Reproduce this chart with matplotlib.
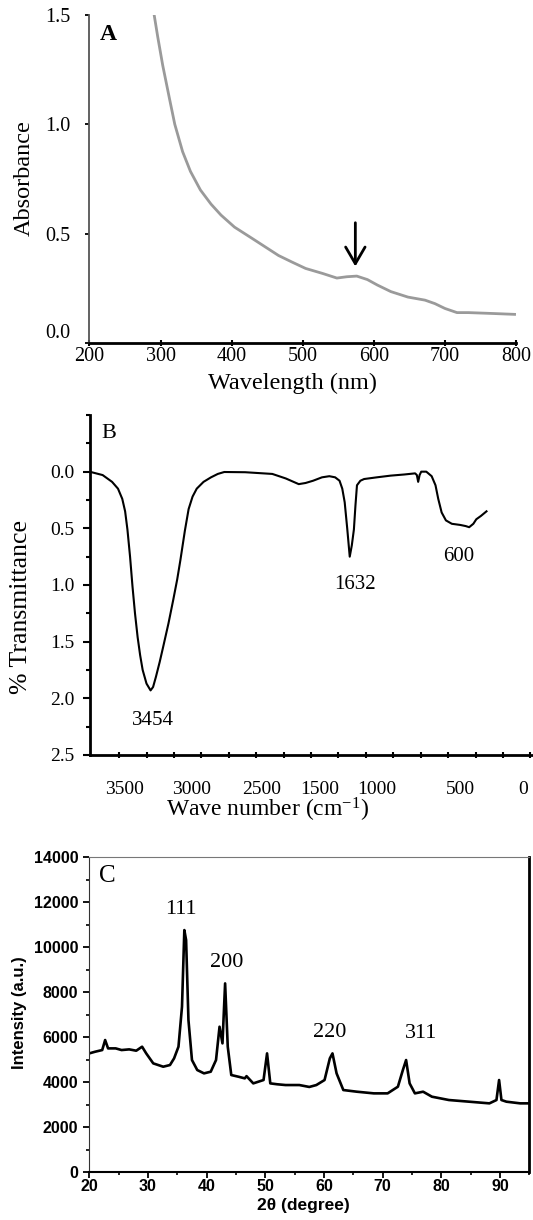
import matplotlib
matplotlib.use('Agg')
import matplotlib.pyplot as plt
from matplotlib.ticker import MultipleLocator, FixedLocator, FormatStrFormatter

plt.rcParams['font.family'] = ['Liberation Serif', 'DejaVu Serif']
plt.rcParams['mathtext.default'] = 'regular'

# ---- panel A: UV-Vis ----
uv_wavelength = [291, 296, 303, 313, 320, 331, 342, 356, 371, 385, 404, 428, 447, 466,
                 485, 504, 528, 548, 562, 576, 591, 605, 624, 648, 672, 686, 700, 717,
                 733, 767, 798]
uv_absorbance = [1.50, 1.40, 1.27, 1.11, 1.00, 0.875, 0.785, 0.70, 0.635, 0.585, 0.53, 0.48,
                 0.44, 0.40, 0.37, 0.341, 0.318, 0.297, 0.303, 0.306, 0.29, 0.265, 0.235,
                 0.21, 0.196, 0.18, 0.158, 0.139, 0.139, 0.135, 0.131]
uv_arrow_x = 574

# ---- panel B: FTIR ----
ir_wavenumber = [4000, 3900, 3814, 3760, 3721, 3695, 3674, 3650, 3628, 3605, 3581, 3558,
                 3535, 3500, 3463, 3440, 3414, 3380, 3349, 3300, 3256, 3220, 3191, 3150,
                 3116, 3080, 3042, 2980, 2912, 2850, 2791, 2600, 2353, 2230, 2112, 2050,
                 1981, 1900, 1833, 1780, 1740, 1715, 1693, 1670, 1647, 1628, 1609, 1595,
                 1581, 1550, 1516, 1400, 1274, 1150, 1051, 1035, 1023, 1010, 995, 949,
                 900, 865, 840, 809, 770, 716, 640, 590, 558, 520, 493, 450, 400]
ir_trans = [0.005, 0.03, 0.09, 0.15, 0.24, 0.35, 0.51, 0.75, 1.01, 1.25, 1.46, 1.62,
            1.75, 1.87, 1.93, 1.90, 1.81, 1.68, 1.55, 1.34, 1.13, 0.95, 0.78, 0.52,
            0.33, 0.22, 0.15, 0.09, 0.05, 0.02, 0.003, 0.005, 0.02, 0.06, 0.11, 0.10,
            0.08, 0.05, 0.04, 0.05, 0.08, 0.15, 0.27, 0.50, 0.75, 0.65, 0.51, 0.30,
            0.12, 0.08, 0.065, 0.05, 0.035, 0.025, 0.015, 0.03, 0.09, 0.03, 0.0, 0.0,
            0.04, 0.12, 0.24, 0.36, 0.43, 0.46, 0.47, 0.48, 0.49, 0.46, 0.42, 0.39, 0.35]
ir_tick_pos = [3705, 3085, 2447, 1918, 1399, 640, 68]
ir_tick_labels = ['3500', '3000', '2500', '1500', '1000', '500', '0']
ir_peaks = [('3454', 3440, 2.2), ('1632', 1596, 1.0), ('600', 651, 0.75)]

# ---- panel C: XRD ----
xrd_2theta = [20.0, 21.0, 22.2, 22.7, 23.2, 24.5, 25.5, 26.8, 28.0, 29.0, 29.7, 30.9, 32.6,
              33.75, 34.45, 35.2, 35.8, 36.2, 36.5, 36.9, 37.5, 38.4, 39.55, 40.7, 41.6,
              42.2, 42.7, 43.15, 43.6, 44.2, 45.5, 46.5, 46.8, 47.95, 49.7, 50.3, 50.85,
              52.0, 53.45, 55.8, 57.5, 58.7, 60.1, 61.0, 61.45, 62.15, 63.3, 65.6, 68.5,
              70.85, 72.6, 73.45, 74.0, 74.6, 75.5, 76.9, 78.4, 81.3, 84.75, 88.2, 89.4,
              89.85, 90.25, 91.1, 93.45, 94.9]
xrd_intensity = [5272, 5346, 5420, 5865, 5494, 5494, 5420, 5450, 5391, 5569, 5272, 4828,
                 4680, 4754, 5050, 5569, 7346, 10752, 10308, 6753, 4976, 4532, 4384, 4458,
                 4976, 6457, 5717, 8382, 5569, 4310, 4230, 4162, 4260, 3939, 4088, 5272,
                 3939, 3900, 3865, 3865, 3780, 3865, 4088, 5050, 5272, 4384, 3643, 3569,
                 3495, 3495, 3791, 4532, 4976, 3939, 3495, 3569, 3347, 3199, 3125, 3051,
                 3199, 4088, 3199, 3125, 3051, 3051]
xrd_peaks = [('111', 35.65, 11660), ('200', 43.5, 9330), ('220', 61.0, 6190), ('311', 76.5, 6140)]

SANS = ['Liberation Sans', 'DejaVu Sans']

fig = plt.figure(figsize=(5.33, 12.2), dpi=100)

# A
ax1 = fig.add_axes([0.1679, 0.71885, 0.8002, 0.26885])
ax1.plot(uv_wavelength, uv_absorbance, color='#9a9a9a', lw=2)
ax1.set_xlim(200, 800)
ax1.set_ylim(0, 1.5)
ax1.set_xticks([200, 300, 400, 500, 600, 700, 800])
ax1.set_yticks([0.0, 0.5, 1.0, 1.5])
ax1.yaxis.set_major_formatter(FormatStrFormatter('%.1f'))
ax1.spines['top'].set_visible(False)
ax1.spines['right'].set_visible(False)
ax1.spines['left'].set_color('#555555')
ax1.spines['left'].set_linewidth(1.3)
ax1.spines['bottom'].set_linewidth(2)
ax1.tick_params(axis='x', direction='inout', length=4, width=1.5, pad=1, labelsize=14.5)
ax1.tick_params(axis='y', direction='out', length=3, width=1.3, pad=11, labelsize=14.5)
ax1.yaxis.get_major_ticks()[0].label1.set_va('bottom')
ax1.set_xlabel('Wavelength (nm)', fontsize=17.5, va='center')
ax1.xaxis.set_label_coords(0.476, -0.122)
ax1.set_ylabel('Absorbance', fontsize=17.5, va='center')
ax1.yaxis.set_label_coords(-0.154, 0.504)
ax1.text(227, 1.41, 'A', fontsize=17, fontweight='bold', ha='center', va='center')
ax1.annotate('', xy=(uv_arrow_x, 0.35), xytext=(uv_arrow_x, 0.55),
             arrowprops=dict(arrowstyle='->,head_length=0.6,head_width=0.35', lw=2,
                             color='black', mutation_scale=20, shrinkA=0, shrinkB=0))

# B
ax2 = fig.add_axes([0.1689, 0.38115, 0.8311, 0.27869])
ax2.plot(ir_wavenumber, ir_trans, color='black', lw=1.5)
ax2.set_xlim(4015, -24)
ax2.set_ylim(2.5, -0.5)
ax2.xaxis.set_major_locator(FixedLocator(ir_tick_pos))
ax2.set_xticklabels(ir_tick_labels)
ax2.xaxis.set_minor_locator(FixedLocator([3750 - 250 * i for i in range(16)]))
ax2.set_yticks([0.0, 0.5, 1.0, 1.5, 2.0, 2.5])
ax2.yaxis.set_major_formatter(FormatStrFormatter('%.1f'))
ax2.yaxis.set_minor_locator(MultipleLocator(0.25))
ax2.spines['top'].set_visible(False)
ax2.spines['right'].set_visible(False)
ax2.spines['left'].set_linewidth(2)
ax2.spines['bottom'].set_linewidth(2)
ax2.tick_params(axis='x', which='major', length=0, pad=19, labelsize=14)
ax2.tick_params(axis='x', which='minor', direction='inout', length=4, width=1.5)
ax2.tick_params(axis='y', which='major', direction='out', length=5, width=1.5, pad=6, labelsize=14)
ax2.tick_params(axis='y', which='minor', direction='out', length=3, width=1.5)
ax2.set_xlabel('Wave number (cm$^{\\mathregular{-1}}$)', fontsize=17, va='center')
ax2.xaxis.set_label_coords(0.4007, -0.162)
ax2.set_ylabel('% Transmittance', fontsize=18.5, va='center')
ax2.yaxis.set_label_coords(-0.155, 0.434)
ax2.text(3843, -0.335, 'B', fontsize=16, ha='center', va='center')
for lab, px, py in ir_peaks:
    ax2.text(px, py, lab, fontsize=15, ha='center', va='center')

# C
ax3 = fig.add_axes([0.16754, 0.03934, 0.82552, 0.2582])
ax3.plot(xrd_2theta, xrd_intensity, color='black', lw=1.9)
ax3.set_xlim(20, 95)
ax3.set_ylim(0, 14000)
ax3.xaxis.set_major_locator(MultipleLocator(10))
ax3.xaxis.set_minor_locator(MultipleLocator(5))
ax3.yaxis.set_major_locator(MultipleLocator(2000))
ax3.yaxis.set_minor_locator(MultipleLocator(1000))
ax3.spines['top'].set_color('#777777')
ax3.spines['left'].set_color('#333333')
ax3.spines['right'].set_linewidth(2)
ax3.spines['bottom'].set_linewidth(1.5)
ax3.tick_params(axis='both', which='major', direction='out', length=4, width=1.3, labelsize=11.5)
ax3.tick_params(axis='both', which='minor', direction='out', length=2.5, width=1.2)
ax3.tick_params(axis='x', pad=1)
ax3.tick_params(axis='y', pad=4)
ax3.set_xlabel('2θ (degree)', fontsize=12.5, fontweight='bold', family=SANS, va='center')
ax3.xaxis.set_label_coords(0.487, -0.105)
ax3.set_ylabel('Intensity (a.u.)', fontsize=12, fontweight='bold', family=SANS, va='center')
ax3.yaxis.set_label_coords(-0.159, 0.505)
ax3.text(23.1, 13140, 'C', fontsize=18, ha='center', va='center')
for lab, px, py in xrd_peaks:
    ax3.text(px, py, lab, fontsize=16, ha='center', va='center')

for lab in ax3.get_xticklabels() + ax3.get_yticklabels():
    lab.set_family(SANS)
    lab.set_fontweight('bold')

fig.savefig('out.png', dpi=100)
